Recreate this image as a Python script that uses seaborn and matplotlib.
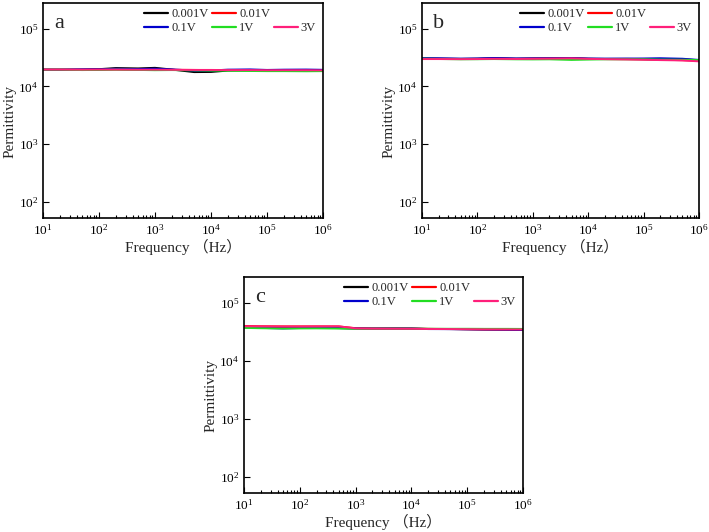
import pandas as pd
import numpy as np
import matplotlib
matplotlib.use('Agg')
import matplotlib.pyplot as plt
import seaborn as sns
from matplotlib.lines import Line2D
from matplotlib.ticker import LogLocator, NullLocator

sns.set_style('ticks')
plt.rcParams['font.family'] = ['Liberation Serif', 'Noto Sans CJK SC']
plt.rcParams['mathtext.fontset'] = 'stix'

# frequency points (Hz)
freq = [10, 20, 50, 100, 200, 500, 1000, 2000, 5000, 10000, 20000,
        50000, 100000, 200000, 500000, 1000000]

voltages = ['0.001V', '0.01V', '0.1V', '1V', '3V']
colors = ['#000000', '#ff0000', '#0000cc', '#22dd22', '#ff1f7a']

# panel a
a_0001 = [19500, 19500, 19600, 19900, 20800, 20500, 21000, 19600, 17700, 17800, 18800, 19000, 18900, 19000, 19000, 18900]
a_001 = [19500, 19500, 19400, 19500, 19700, 19400, 19300, 19400, 19300, 19200, 19300, 19200, 19200, 19200, 19100, 19200]
a_01 = [19500, 19500, 19700, 19800, 20200, 20000, 20300, 19700, 18800, 18900, 19500, 19700, 19300, 19500, 19600, 19400]
a_1 = [19500, 19500, 19200, 19300, 19500, 19300, 19100, 19200, 19000, 18800, 18700, 18500, 18400, 18400, 18300, 18400]
a_3 = [19600, 19600, 19500, 19600, 19600, 19500, 19500, 19400, 19300, 19300, 19200, 19200, 19100, 19100, 19100, 19000]

# panel b
b_0001 = [30500, 30300, 30000, 30200, 30800, 30200, 30500, 30600, 30800, 30200, 30000, 30000, 29800, 29600, 29300, 28500]
b_001 = [30200, 30000, 29900, 30000, 30300, 30000, 30200, 30400, 30600, 30000, 29800, 29600, 29400, 29000, 28500, 27800]
b_01 = [31000, 30700, 30300, 30500, 31000, 30500, 30600, 30700, 30900, 30400, 30300, 30400, 30500, 30800, 30200, 28800]
b_1 = [30300, 29900, 29500, 29600, 29800, 29500, 29400, 29500, 28800, 29200, 29500, 29600, 29600, 29200, 29000, 28600]
b_3 = [29800, 29800, 29700, 29800, 30100, 29900, 30100, 30300, 30700, 30000, 29700, 29400, 29000, 28600, 28200, 27200]

# panel c
c_0001 = [38500, 37800, 36800, 37000, 37200, 36800, 36200, 36000, 36200, 36100, 35500, 35300, 35000, 34700, 34500, 34000]
c_001 = [40000, 39500, 39300, 39300, 39300, 39200, 36600, 36100, 36000, 35900, 35600, 35400, 35200, 34900, 34700, 34600]
c_01 = [38000, 37000, 36200, 36800, 37200, 36700, 36200, 36000, 36100, 36000, 35300, 35200, 35000, 34800, 34500, 34200]
c_1 = [37000, 36500, 36000, 36200, 36300, 36000, 35700, 35800, 35900, 35800, 35700, 35700, 35700, 35600, 35600, 35500]
c_3 = [39500, 39300, 39000, 39000, 39200, 39300, 36300, 35900, 35800, 35700, 35400, 35300, 35100, 34900, 34800, 34700]

panels = {
    'a': [a_0001, a_001, a_01, a_1, a_3],
    'b': [b_0001, b_001, b_01, b_1, b_3],
    'c': [c_0001, c_001, c_01, c_1, c_3],
}

W, H = 709, 532
fig = plt.figure(figsize=(W / 100, H / 100), dpi=100)
positions = {
    'a': [43 / W, 1 - 218 / H, 280 / W, 215 / H],
    'b': [422 / W, 1 - 218 / H, 277 / W, 215 / H],
    'c': [244 / W, 1 - 493 / H, 279 / W, 216 / H],
}

for name, series in panels.items():
    ax = fig.add_axes(positions[name])
    rows = []
    for v, vals in zip(voltages, series):
        for f, p in zip(freq, vals):
            rows.append({'Frequency': f, 'Permittivity': p, 'Voltage': v})
    df = pd.DataFrame(rows)
    sns.lineplot(data=df, x='Frequency', y='Permittivity', hue='Voltage',
                 palette=dict(zip(voltages, colors)), linewidth=1.4,
                 ax=ax, legend=False)
    ax.set_xscale('log')
    ax.set_yscale('log')
    ax.set_xlim(10, 1e6)
    ax.set_ylim(52, 2.8e5)
    ax.xaxis.set_major_locator(LogLocator(base=10, numticks=10))
    ax.xaxis.set_minor_locator(LogLocator(base=10, subs=np.arange(2, 10), numticks=10))
    ax.yaxis.set_major_locator(LogLocator(base=10, numticks=10))
    ax.yaxis.set_minor_locator(NullLocator())
    ax.tick_params(which='both', direction='in', top=False, right=False,
                   labelsize=9.5, width=0.8, colors='black')
    ax.tick_params(which='major', length=4)
    ax.tick_params(which='minor', length=2)
    for s in ax.spines.values():
        s.set_linewidth(1.2)
        s.set_color('black')
    ax.set_xlabel('Frequency （Hz）', fontsize=11, labelpad=1)
    ax.set_ylabel('Permittivity', fontsize=11)
    ax.yaxis.set_label_coords(-0.095, 0.45)
    ax.text(0.04, 0.95, name, transform=ax.transAxes, fontsize=16,
            va='top', ha='left')

    # two-row legend, 3V alone at the end of the second row
    handles = [Line2D([], [], color=c, lw=1.6) for c in colors]
    blank = Line2D([], [], color='none')
    order_h = [handles[0], handles[2], handles[1], handles[3], blank, handles[4]]
    order_l = ['0.001V', '0.1V', '0.01V', '1V', '', '3V']
    ax.legend(order_h, order_l, ncol=3, loc='upper right', frameon=False,
              fontsize=9, handlelength=1.9, handletextpad=0.25,
              columnspacing=0.3, labelspacing=0.15,
              borderpad=0, borderaxespad=0,
              bbox_to_anchor=(0.975, 0.975))

fig.savefig('out.png', dpi=100)
